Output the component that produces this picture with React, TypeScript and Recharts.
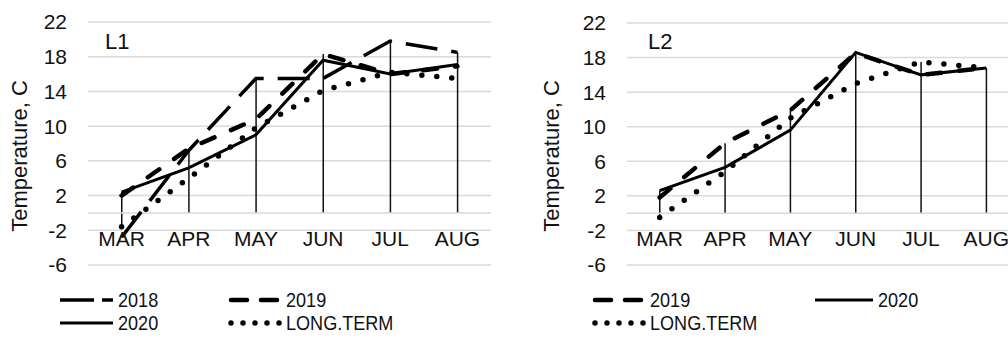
import React from "react";
import {
  Bar,
  CartesianGrid,
  ComposedChart,
  Line,
  ReferenceLine,
  XAxis,
  YAxis,
} from "recharts";

// monthly mean air temperature, °C
const months = ["MAR", "APR", "MAY", "JUN", "JUL", "AUG"];
const yTicks = [-6, -2, 2, 6, 10, 14, 18, 22];

const l1Y2018 = [-2.8, 7.2, 15.5, 15.5, 19.8, 18.5];
const l1Y2019 = [2.0, 7.4, 10.8, 18.3, 16.0, 16.9];
const l1Y2020 = [2.4, 5.2, 9.0, 17.6, 16.0, 17.1];
const l1LongTerm = [-1.6, 4.0, 9.8, 14.1, 16.2, 15.5];

const l2Y2019 = [1.8, 8.1, 11.9, 18.5, 16.0, 16.8];
const l2Y2020 = [2.6, 5.3, 9.6, 18.6, 16.0, 16.8];
const l2LongTerm = [-0.5, 4.8, 11.0, 15.0, 17.5, 16.8];

const FONT = "'Liberation Sans', Arial, sans-serif";
const GRID = "#d9d9d9";
const INK = "#111";

type Style = {
  strokeWidth: number;
  strokeDasharray?: string;
  strokeLinecap: "butt" | "round";
};

const styles: Record<string, Style> = {
  "2018": { strokeWidth: 3.5, strokeDasharray: "32 14", strokeLinecap: "butt" },
  "2019": { strokeWidth: 4.5, strokeDasharray: "14 18", strokeLinecap: "round" },
  "2020": { strokeWidth: 3, strokeLinecap: "butt" },
  "LONG.TERM": { strokeWidth: 5.5, strokeDasharray: "0 15", strokeLinecap: "round" },
};

// legend sample strokes are a little tighter than the plotted ones
const legendDash: Record<string, string | undefined> = {
  "2018": "34 8",
  "2019": "16 14",
  "2020": undefined,
  "LONG.TERM": "0 12",
};

type Series = { name: string; values: number[] };

function buildRows(series: Series[], longTerm: number[]) {
  return months.map((m, i) => {
    const row: Record<string, any> = { month: m };
    series.forEach((s) => (row[s.name] = s.values[i]));
    // drop line: from the highest value down to the axis (or the long-term point below it)
    const hi = Math.max(...series.map((s) => s.values[i]));
    row.drop = [Math.min(0, longTerm[i]), hi];
    return row;
  });
}

function Panel({
  series,
  longTerm,
  width,
  margin,
  yWidth,
}: {
  series: Series[];
  longTerm: number[];
  width: number;
  margin: { top: number; right: number; bottom: number; left: number };
  yWidth: number;
}) {
  const rows = buildRows(series, longTerm);
  return (
    <ComposedChart width={width} height={300} data={rows} margin={margin}>
      <CartesianGrid vertical={false} stroke={GRID} strokeWidth={1.5} />
      <ReferenceLine y={0} stroke={GRID} strokeWidth={1.5} />
      <XAxis
        dataKey="month"
        height={30}
        axisLine={false}
        tickLine={false}
        tickSize={0}
        tickMargin={0}
        interval={0}
        tick={{ fill: INK, fontSize: 21, dy: -34 }}
      />
      <YAxis
        width={yWidth}
        domain={[-6, 22]}
        ticks={yTicks}
        interval={0}
        axisLine={false}
        tickLine={false}
        tickSize={0}
        tickMargin={21}
        tick={{ fill: INK, fontSize: 21 }}
      />
      <Bar dataKey="drop" fill={INK} barSize={1.5} isAnimationActive={false} />
      {series.map((s) => (
        <Line
          key={s.name}
          dataKey={s.name}
          stroke="#000"
          dot={false}
          activeDot={false}
          isAnimationActive={false}
          {...styles[s.name]}
        />
      ))}
    </ComposedChart>
  );
}

function LegendItem({ name, x, y, w = 55 }: { name: string; x: number; y: number; w?: number }) {
  const st = styles[name];
  return (
    <div
      style={{
        position: "absolute",
        left: x,
        top: y - 12,
        height: 24,
        display: "flex",
        alignItems: "center",
        whiteSpace: "nowrap",
      }}
    >
      <svg width={w} height={10} style={{ overflow: "visible" }}>
        <line
          x1={st.strokeLinecap === "round" ? 3 : 0}
          y1={5}
          x2={w - 2}
          y2={5}
          stroke="#000"
          strokeWidth={st.strokeWidth}
          strokeLinecap={st.strokeLinecap}
          strokeDasharray={legendDash[name]}
        />
      </svg>
      {/* legend labels use a condensed face */}
      <span
        style={{
          display: "inline-block",
          marginLeft: 3,
          fontSize: 21,
          color: INK,
          lineHeight: "24px",
          transform: "scaleX(0.86)",
          transformOrigin: "left center",
        }}
      >
        {name}
      </span>
    </div>
  );
}

function YTitle({ x }: { x: number }) {
  return (
    <div
      style={{
        position: "absolute",
        left: x,
        top: 156,
        transform: "translate(-50%, -50%) rotate(-90deg)",
        whiteSpace: "nowrap",
        fontSize: 22,
        color: INK,
      }}
    >
      Temperature, C
    </div>
  );
}

export default function App() {
  const l1: Series[] = [
    { name: "2018", values: l1Y2018 },
    { name: "2019", values: l1Y2019 },
    { name: "2020", values: l1Y2020 },
    { name: "LONG.TERM", values: l1LongTerm },
  ];
  const l2: Series[] = [
    { name: "2019", values: l2Y2019 },
    { name: "2020", values: l2Y2020 },
    { name: "LONG.TERM", values: l2LongTerm },
  ];

  return (
    <div
      style={{
        position: "absolute",
        left: 0,
        top: 0,
        width: 1008,
        height: 339,
        overflow: "hidden",
        background: "#fff",
        fontFamily: FONT,
      }}
    >
      <div style={{ position: "absolute", left: 0, top: 0 }}>
        <Panel
          series={l1}
          longTerm={l1LongTerm}
          width={500}
          yWidth={88}
          margin={{ top: 22, right: 9, bottom: 5, left: 0 }}
        />
      </div>
      <div style={{ position: "absolute", left: 540, top: 0 }}>
        <Panel
          series={l2}
          longTerm={l2LongTerm}
          width={485}
          yWidth={87}
          margin={{ top: 23, right: 6, bottom: 5, left: 0 }}
        />
      </div>

      <YTitle x={20} />
      <YTitle x={552} />
      <div style={{ position: "absolute", left: 105, top: 29, fontSize: 22, color: INK }}>L1</div>
      <div style={{ position: "absolute", left: 648, top: 29, fontSize: 22, color: INK }}>L2</div>

      <LegendItem name="2018" x={60} y={300} />
      <LegendItem name="2019" x={228} y={300} />
      <LegendItem name="2020" x={60} y={323} />
      <LegendItem name="LONG.TERM" x={228} y={323} />

      <LegendItem name="2019" x={592} y={300} />
      <LegendItem name="2020" x={815} y={300} w={60} />
      <LegendItem name="LONG.TERM" x={592} y={323} />
    </div>
  );
}
